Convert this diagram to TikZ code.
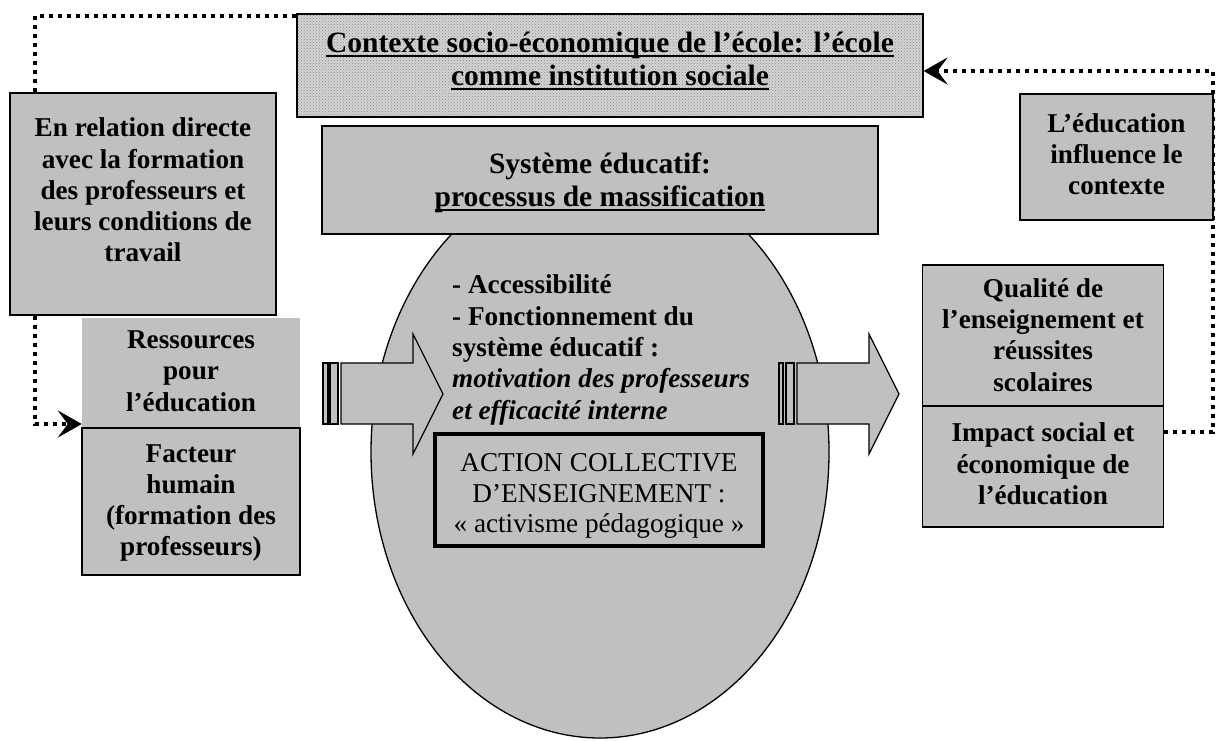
\documentclass[tikz,border=0pt]{standalone}
\usepackage{fontspec}
\setmainfont{Liberation Serif}
\usetikzlibrary{arrows.meta,patterns,shapes.geometric}
\definecolor{silver}{RGB}{192,192,192}
\definecolor{ctxgray}{RGB}{212,212,212}
\newcommand{\ulx}[1]{\setbox0\hbox{#1}\rlap{\rule[-4.5pt]{\wd0}{2pt}}\box0}
\begin{document}
\begin{tikzpicture}[x=1pt,y=-1pt,
  box/.style={draw=black, line width=1.4pt, fill=silver, inner sep=0pt},
  plainbox/.style={fill=silver, inner sep=0pt},
  txt/.style={font=\fontsize{27.2}{31.3}\selectfont\bfseries, align=center, inner sep=0pt},
  titletxt/.style={font=\fontsize{29.5}{33}\selectfont\bfseries, align=center, inner sep=0pt},
  txtn/.style={font=\fontsize{27.2}{30.5}\selectfont, align=center, inner sep=0pt},
  dotline/.style={line width=4.2pt, dash pattern=on 4.2pt off 4.8pt},
  dottip/.style={-{Stealth[length=24pt,width=27pt,inset=10pt]}},
  blockarrow/.style={draw=black, line width=1.3pt, fill=silver, line join=miter}]
\useasboundingbox (0,0) rectangle (1225,740);

% boxes that the dotted connectors join
\node[draw=black, line width=1.2pt, preaction={fill=ctxgray}, pattern=crosshatch dots, pattern color=black!45,
      minimum width=626, minimum height=103, inner sep=0pt] (ctx) at (610,65.5) {};
\node[box, minimum width=266, minimum height=222] (rel) at (143,204) {};
\node[plainbox, minimum width=218, minimum height=110] (res) at (191,373) {};
\node[box, minimum width=241, minimum height=121] (imp) at (1043,466.5) {};

% dotted connectors
\coordinate (lc) at (35,16);
\coordinate (lb) at (35,424);
\coordinate (rb) at (1213,432);
\coordinate (rt) at (1213,71);
\draw[dotline] (rel.north -| lc) -- (lc) -- (lc -| ctx.west);
\draw[dotline, dottip] (rel.south -| lb) -- (lb) -- (lb -| res.west);
\draw[dotline, dottip] (rb -| imp.east) -- (rb) -- (rt) -- (rt -| ctx.east);

% redraw boxes over the connectors
\node[box, minimum width=266, minimum height=222] (rel2) at (rel) {};
\node[box, minimum width=193, minimum height=126] (edu) at (1116.5,157) {};

% texts of the top boxes
\node[titletxt] (ctxt) at (610,61) {\ulx{Contexte socio-économique de l’école: l’école}\\\ulx{comme institution sociale}};
\node[txt] (relt) at (143,190) {En relation directe\\avec la formation\\des professeurs et\\leurs conditions de\\travail};
\node[txt] (edut) at (1116.5,154) {L’éducation\\influence le\\contexte};

% central ellipse and system box
\node[draw=black, line width=1.3pt, fill=silver, ellipse, minimum width=458, minimum height=572, inner sep=0pt] (ell) at (600,452) {};
\node[box, minimum width=556, minimum height=108] (sys) at (600,180) {};
\node[titletxt] (syst) at (600,183) {Système éducatif:\\\ulx{processus de massification}};
\node[txt, align=left, anchor=west] (ellt) at (452,350) {- Accessibilité\\- Fonctionnement du\\système éducatif :\\\textit{motivation des professeurs}\\\textit{et efficacité interne}};

% block arrows
\draw[blockarrow] (323,363) rectangle (328,424);
\draw[blockarrow] (330,363) rectangle (338,424);
\draw[blockarrow] (341,363) -- (413,363) -- (413,334) -- (443,394) -- (413,454) -- (413,424) -- (341,424) -- cycle;
\draw[blockarrow] (779,363) rectangle (783,424);
\draw[blockarrow] (786,363) rectangle (794,424);
\draw[blockarrow] (797,363) -- (869,363) -- (869,334) -- (899,394) -- (869,454) -- (869,424) -- (797,424) -- cycle;

% left boxes
\node[txt] (rest) at (191,371) {Ressources\\pour\\l’éducation};
\node[box, minimum width=218, minimum height=147] (fac) at (191,501.5) {};
\node[txt] (fact) at (191,503) {Facteur\\humain\\(formation des\\professeurs)};

% right boxes
\node[box, minimum width=241, minimum height=141] (qua) at (1043,335.5) {};
\node[txt] (quat) at (1043,335) {Qualité de\\l’enseignement et\\réussites\\scolaires};
\node[txt] (impt) at (1043,464) {Impact social et\\économique de\\l’éducation};

% action box
\node[draw=black, line width=4.5pt, fill=silver, minimum width=328, minimum height=112, inner sep=0pt] (act) at (599,490) {};
\node[txtn] (actt) at (599,496) {ACTION COLLECTIVE\\D’ENSEIGNEMENT :\\« activisme pédagogique »};
\end{tikzpicture}
\end{document}
